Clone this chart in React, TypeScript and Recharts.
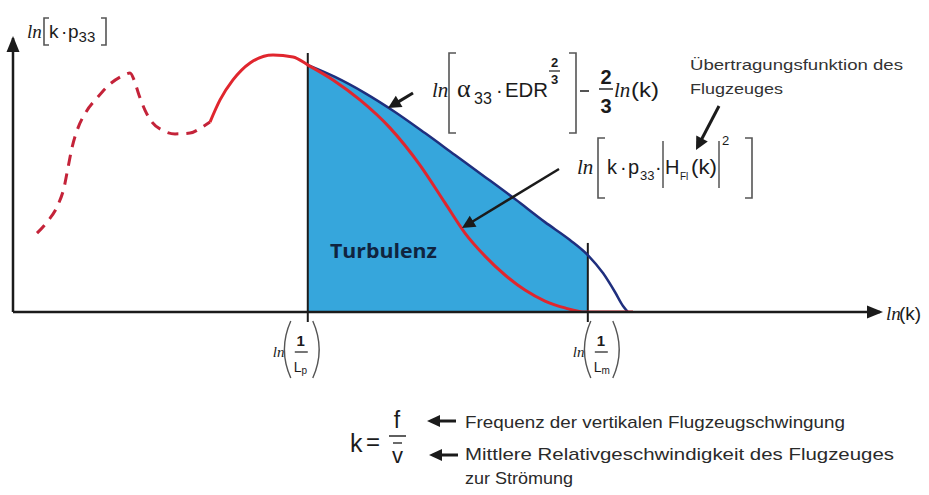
import React from 'react';
import { ComposedChart, Area, Line, XAxis, YAxis, ReferenceLine } from 'recharts';

// Cut-off wavenumbers ln(1/Lp) and ln(1/Lm) on the ln(k) axis
const LP = 3.4;
const LM = 6.63;
const cutoffTicks = [LP, LM];
const cutoffSubscripts = ['p', 'm'];
// height of the cut-off marker lines above the axis
const cutoffTops = [9.45, 2.52];

// Measured spectrum, low-wavenumber part (uncertain, dashed)
const redDashed = [
  { x: 0.277, y: 2.88 }, { x: 0.392, y: 3.28 }, { x: 0.519, y: 3.91 }, { x: 0.588, y: 4.53 },
  { x: 0.634, y: 5.26 }, { x: 0.68, y: 5.99 }, { x: 0.75, y: 6.72 }, { x: 0.842, y: 7.3 },
  { x: 0.969, y: 7.81 }, { x: 1.119, y: 8.32 }, { x: 1.257, y: 8.61 }, { x: 1.35, y: 8.72 },
  { x: 1.396, y: 8.47 }, { x: 1.453, y: 7.92 }, { x: 1.522, y: 7.37 }, { x: 1.603, y: 6.93 },
  { x: 1.719, y: 6.64 }, { x: 1.869, y: 6.5 }, { x: 2.042, y: 6.53 }, { x: 2.168, y: 6.72 },
  { x: 2.272, y: 6.93 },
];

// ln[k · p33 · |H_Fl(k)|²] – spectrum seen through the aircraft transfer function
const redSolid = [
  { x: 2.272, y: 6.93 }, { x: 2.388, y: 7.74 }, { x: 2.537, y: 8.47 }, { x: 2.734, y: 9.09 },
  { x: 2.999, y: 9.38 }, { x: 3.23, y: 9.31 }, { x: 3.403, y: 9.01 }, { x: 3.691, y: 8.47 },
  { x: 4.002, y: 7.74 }, { x: 4.348, y: 6.72 }, { x: 4.694, y: 5.36 }, { x: 4.983, y: 3.98 },
  { x: 5.213, y: 2.88 }, { x: 5.444, y: 2.04 }, { x: 5.675, y: 1.35 }, { x: 5.905, y: 0.8 },
  { x: 6.136, y: 0.4 }, { x: 6.367, y: 0.15 }, { x: 6.598, y: 0 }, { x: 7.151, y: 0 },
];

// ln[α33 · EDR^(2/3)] − 2/3 ln(k) – inertial-range model
const blueModel = [
  { x: 3.403, y: 9.01 }, { x: 3.714, y: 8.58 }, { x: 4.06, y: 7.99 }, { x: 4.406, y: 7.3 },
  { x: 4.752, y: 6.53 }, { x: 5.098, y: 5.73 }, { x: 5.444, y: 4.93 }, { x: 5.79, y: 4.12 },
  { x: 6.136, y: 3.28 }, { x: 6.424, y: 2.63 }, { x: 6.63, y: 2.08 }, { x: 6.805, y: 1.42 },
  { x: 6.943, y: 0.73 }, { x: 7.036, y: 0.22 }, { x: 7.093, y: 0 },
];
const turbulenceBand = blueModel.filter((p) => p.x <= LM);

const SANS = "'Liberation Sans', Arial, sans-serif";
const SERIF = "'Liberation Serif', 'Times New Roman', serif";
const INK = '#1b1b1b';
const GREY = '#555';
const FILL = '#36a6dc';
const NAVY = '#1f2f7e';
const RED = '#e0262e';
const RED_DASH = '#c42339';

type ArrowProps = { x1: number; y1: number; x2: number; y2: number; w?: number; head?: number; half?: number };
function Arrow({ x1, y1, x2, y2, w = 3, head = 13, half = 6.5 }: ArrowProps) {
  const dx = x2 - x1;
  const dy = y2 - y1;
  const len = Math.hypot(dx, dy);
  const ux = dx / len;
  const uy = dy / len;
  const bx = x2 - ux * head;
  const by = y2 - uy * head;
  const px = -uy;
  const py = ux;
  return (
    <g>
      <line x1={x1} y1={y1} x2={bx + ux * 2} y2={by + uy * 2} stroke={INK} strokeWidth={w} />
      <polygon
        points={`${x2},${y2} ${bx + px * half},${by + py * half} ${bx - px * half},${by - py * half}`}
        fill={INK}
      />
    </g>
  );
}

function Bracket({ x, y1, y2, side, w = 7 }: { x: number; y1: number; y2: number; side: 'l' | 'r'; w?: number }) {
  const e = side === 'l' ? x + w : x - w;
  return <path d={`M${e},${y1} H${x} V${y2} H${e}`} stroke={GREY} strokeWidth={1.6} fill="none" />;
}

function Paren({ x, y1, y2, side, w = 8 }: { x: number; y1: number; y2: number; side: 'l' | 'r'; w?: number }) {
  const mid = (y1 + y2) / 2;
  const d =
    side === 'l'
      ? `M${x + w},${y1} Q${x - w * 0.6},${mid} ${x + w},${y2}`
      : `M${x},${y1} Q${x + w * 1.6},${mid} ${x},${y2}`;
  return <path d={d} stroke={GREY} strokeWidth={1.4} fill="none" />;
}

function CutoffTick(props: any) {
  const { x, y, index } = props;
  const x0 = x + (index === 0 ? -35 : -15);
  const top = y;
  const sub = cutoffSubscripts[index] ?? '';
  return (
    <g>
      <text x={x0} y={top + 33} fontFamily={SERIF} fontStyle="italic" fontSize={15} fill={INK}>ln</text>
      <Paren x={x0 + 10} y1={top - 3} y2={top + 54} side="l" />
      <text x={x0 + 28} y={top + 22} textAnchor="middle" fontFamily={SANS} fontWeight="bold" fontSize={15} fill={INK}>1</text>
      <line x1={x0 + 22} x2={x0 + 35} y1={top + 28} y2={top + 28} stroke={INK} strokeWidth={1.2} />
      <text x={x0 + 21} y={top + 48} fontFamily={SANS} fontSize={14} fill={INK}>
        L<tspan fontSize={10} dy={2}>{sub}</tspan>
      </text>
      <Paren x={x0 + 40} y1={top - 3} y2={top + 54} side="r" />
    </g>
  );
}

function Annotations() {
  return (
    <svg
      width={929}
      height={495}
      style={{ position: 'absolute', left: 0, top: 0, pointerEvents: 'none' }}
    >
      {/* axis arrow heads */}
      <polygon points="13,36 6.5,52 19.5,52" fill={INK} />
      <polygon points="883,312 867,305.5 867,318.5" fill={INK} />

      {/* y axis title: ln[k · p33] */}
      <g fill={INK} fontFamily={SANS} fontSize={19}>
        <text x={27} y={38} fontFamily={SERIF} fontStyle="italic">ln</text>
        <Bracket x={44} y1={18} y2={45} side="l" w={5} />
        <text x={49} y={38}>k</text>
        <text x={61} y={38}>·</text>
        <text x={68} y={38}>p<tspan fontSize={15} dy={4}>33</tspan></text>
        <Bracket x={106} y1={18} y2={45} side="r" w={5} />
      </g>

      {/* x axis title: ln(k) */}
      <g fill={INK} fontSize={19}>
        <text x={886} y={320} fontFamily={SERIF} fontStyle="italic">ln</text>
        <text x={899} y={320} fontFamily={SANS}>(k)</text>
      </g>

      {/* model formula */}
      <g fill={INK} fontFamily={SANS}>
        <text x={432} y={97} fontFamily={SERIF} fontStyle="italic" fontSize={21}>ln</text>
        <Bracket x={449} y1={53} y2={133} side="l" />
        <text x={457} y={97} fontFamily={SERIF} fontSize={26}>α</text>
        <text x={474} y={104} fontSize={16}>33</text>
        <text x={496} y={97} fontSize={20}>·</text>
        <text x={505} y={97} fontSize={21} textLength={43} lengthAdjust="spacingAndGlyphs">EDR</text>
        <text x={554.5} y={67} fontSize={13} fontWeight="bold" textAnchor="middle">2</text>
        <line x1={549} x2={560} y1={71} y2={71} stroke={INK} strokeWidth={1.2} />
        <text x={554.5} y={84} fontSize={13} fontWeight="bold" textAnchor="middle">3</text>
        <Bracket x={576} y1={53} y2={133} side="r" />
        <line x1={580} x2={589} y1={91} y2={91} stroke={INK} strokeWidth={1.5} />
        <text x={606} y={84} fontSize={20} fontWeight="bold" textAnchor="middle">2</text>
        <line x1={599} x2={613} y1={89} y2={89} stroke={INK} strokeWidth={1.4} />
        <text x={606} y={113} fontSize={20} fontWeight="bold" textAnchor="middle">3</text>
        <text x={614} y={97} fontFamily={SERIF} fontStyle="italic" fontSize={21}>ln</text>
        <text x={631} y={97} fontSize={21} textLength={28} lengthAdjust="spacingAndGlyphs">(k)</text>
      </g>

      {/* transfer-function formula */}
      <g fill={INK} fontFamily={SANS}>
        <text x={577} y={174} fontFamily={SERIF} fontStyle="italic" fontSize={21}>ln</text>
        <Bracket x={598} y1={138} y2={198} side="l" />
        <text x={607} y={174} fontSize={20}>k</text>
        <text x={620} y={174} fontSize={20}>·</text>
        <text x={628} y={174} fontSize={20}>p</text>
        <text x={640} y={180} fontSize={13}>33</text>
        <text x={655} y={174} fontSize={20}>·</text>
        <line x1={663} x2={663} y1={141} y2={188} stroke={GREY} strokeWidth={1.5} />
        <text x={665} y={174} fontSize={20}>H</text>
        <text x={680} y={180} fontSize={10}>Fl</text>
        <text x={691} y={174} fontSize={20} textLength={26} lengthAdjust="spacingAndGlyphs">(k)</text>
        <line x1={719} x2={719} y1={141} y2={188} stroke={GREY} strokeWidth={1.5} />
        <text x={722} y={145} fontSize={13}>2</text>
        <Bracket x={752} y1={138} y2={198} side="r" />
      </g>

      <g fill="#333" fontFamily={SANS} fontSize={15}>
        <text x={690} y={70} textLength={213} lengthAdjust="spacingAndGlyphs">Übertragungsfunktion des</text>
        <text x={690} y={94} textLength={93} lengthAdjust="spacingAndGlyphs">Flugzeuges</text>
      </g>

      <Arrow x1={413} y1={93} x2={388} y2={108} />
      <Arrow x1={719} y1={106} x2={696} y2={150} />
      <Arrow x1={559} y1={169} x2={462} y2={228} w={2.5} />

      <text
        x={330}
        y={258}
        fontFamily="'Open Sans', Lato, sans-serif"
        fontWeight="bold"
        fontSize={19}
        fill="#10243f"
        textLength={107}
        lengthAdjust="spacingAndGlyphs"
      >
        Turbulenz
      </text>

      {/* definition of k */}
      <g fill={INK} fontFamily={SANS}>
        <text x={350} y={452} fontSize={25}>k</text>
        <text x={366} y={450} fontSize={24}>=</text>
        <text x={397} y={428} fontSize={23} textAnchor="middle">f</text>
        <line x1={389} x2={406} y1={436} y2={436} stroke={INK} strokeWidth={1.4} />
        <line x1={393} x2={402} y1={443} y2={443} stroke={INK} strokeWidth={1.3} />
        <text x={397.5} y={463} fontSize={22} textAnchor="middle">v</text>
      </g>
      <Arrow x1={456} y1={421} x2={427} y2={421} head={13} half={6} />
      <Arrow x1={458} y1={455} x2={429} y2={455} head={13} half={6} />
      <g fill="#2a2a2a" fontFamily={SANS} fontSize={17}>
        <text x={465} y={428} textLength={380} lengthAdjust="spacingAndGlyphs">
          Frequenz der vertikalen Flugzeugschwingung
        </text>
        <text x={465} y={460} textLength={429} lengthAdjust="spacingAndGlyphs">
          Mittlere Relativgeschwindigkeit des Flugzeuges
        </text>
        <text x={465} y={484} textLength={108} lengthAdjust="spacingAndGlyphs">zur Strömung</text>
      </g>
    </svg>
  );
}

export default function App() {
  return (
    <div style={{ position: 'absolute', left: 0, top: 0, width: 929, height: 495, background: '#fff' }}>
      <ComposedChart
        width={929}
        height={495}
        margin={{ top: 38, right: 49, bottom: 153, left: 13 }}
      >
        <XAxis
          type="number"
          dataKey="x"
          domain={[0, 10]}
          ticks={cutoffTicks}
          interval={0}
          height={30}
          axisLine={{ stroke: INK, strokeWidth: 2.5 }}
          tickLine={{ stroke: INK, strokeWidth: 2 }}
          tickSize={10}
          tick={<CutoffTick />}
          allowDataOverflow
        />
        <YAxis type="number" dataKey="y" domain={[0, 10]} width={0} hide allowDataOverflow />
        <Area
          data={turbulenceBand}
          dataKey="y"
          type="monotone"
          fill={FILL}
          fillOpacity={1}
          stroke="none"
          baseValue={0}
          isAnimationActive={false}
        />
        {/* ordinate axis ln[k · p33] */}
        <ReferenceLine x={0} stroke={INK} strokeWidth={2.5} ifOverflow="visible" />
        <ReferenceLine
          segment={[{ x: LP, y: 0 }, { x: LP, y: cutoffTops[0] }]}
          stroke={INK}
          strokeWidth={2}
        />
        <ReferenceLine
          segment={[{ x: LM, y: 0 }, { x: LM, y: cutoffTops[1] }]}
          stroke={INK}
          strokeWidth={2}
        />
        <Line
          data={redDashed}
          dataKey="y"
          type="monotone"
          stroke={RED_DASH}
          strokeWidth={3}
          strokeDasharray="11 8"
          dot={false}
          isAnimationActive={false}
        />
        <Line
          data={blueModel}
          dataKey="y"
          type="monotone"
          stroke={NAVY}
          strokeWidth={2.5}
          dot={false}
          isAnimationActive={false}
        />
        <Line
          data={redSolid}
          dataKey="y"
          type="monotone"
          stroke={RED}
          strokeWidth={3}
          dot={false}
          isAnimationActive={false}
        />
      </ComposedChart>
      <Annotations />
    </div>
  );
}
